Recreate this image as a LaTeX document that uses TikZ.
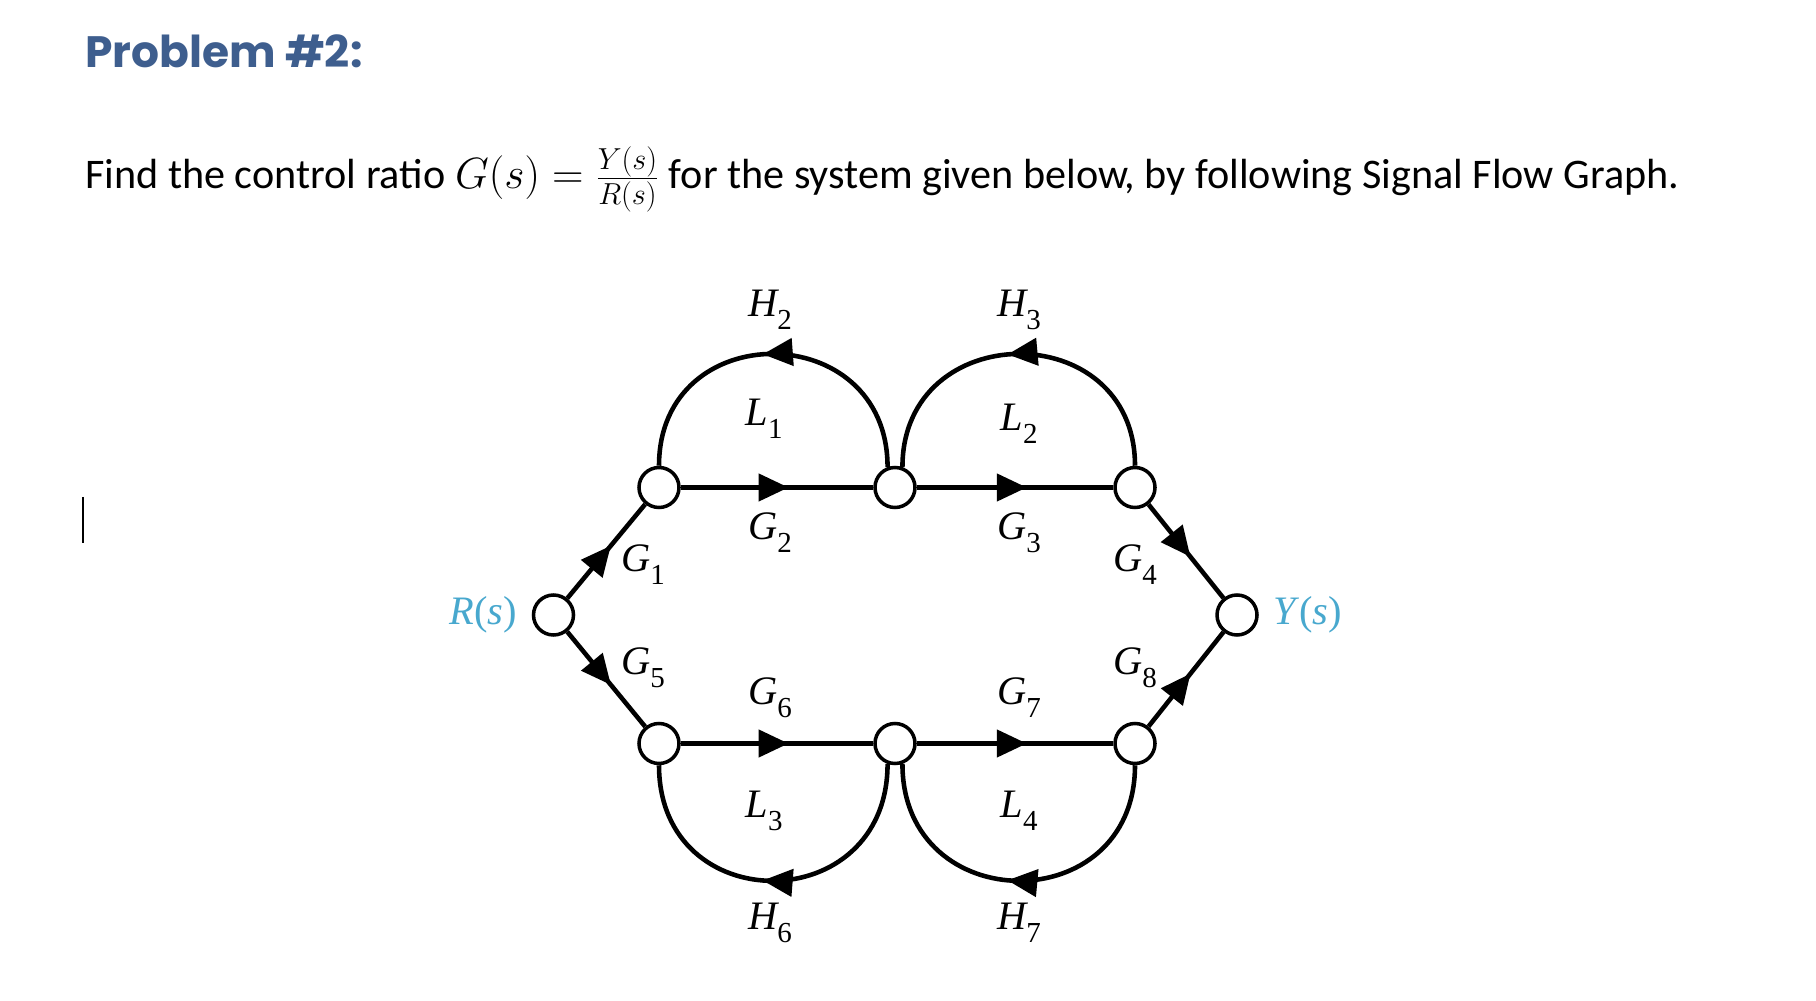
\documentclass[tikz,border=0pt]{standalone}
\usepackage{fontspec}
\setmainfont{Carlito}
\newfontfamily\titlefont{Poppins}
\newfontfamily\figfont{Liberation Serif}
\usetikzlibrary{arrows.meta, positioning, decorations.markings}
\definecolor{titleblue}{RGB}{62,94,142}
\definecolor{sigblue}{RGB}{72,168,206}
\newcommand{\gain}[2]{{\figfont\itshape #1}\raisebox{-0.32em}{\figfont\upshape\fontsize{16.5}{16.5}\selectfont #2}}

\begin{document}
\begin{tikzpicture}[
    font=\figfont\fontsize{23}{23}\selectfont,
    signode/.style={circle, draw=black, line width=2pt, fill=white,
        minimum size=0.8cm, inner sep=0pt},
    flow/.style={line width=2.6pt, draw=black, postaction={decorate},
        decoration={markings, mark=at position #1 with {\arrow{Triangle[length=0.6cm, width=0.54cm]}}}},
    flow/.default=0.56,
    gainlbl/.style={inner sep=1pt},
    signal/.style={inner sep=1pt, text=sigblue}
]
\useasboundingbox (0,0) rectangle (36.32,20);

\node[anchor=base west, inner sep=0pt, text=titleblue,
    font=\titlefont\bfseries\fontsize{25}{25}\selectfont] (title) at (1.7,18.64) {Problem \#2:};
\node[anchor=base west, inner sep=0pt, font=\rmfamily\fontsize{24}{24}\selectfont] (task) at (1.7,16.22)
    {Find the control ratio $G(s)=\frac{Y(s)}{R(s)}$ for the system given below, by following Signal Flow Graph.};
\draw[line width=1.4pt] (1.66,10.06) -- (1.66,9.14);

% signal nodes
\foreach \n/\x/\y in {R/11.07/7.70, t1/13.18/10.25, t2/17.90/10.25, t3/22.70/10.25, Y/24.74/7.70,
    b1/13.18/5.13, b2/17.90/5.13, b3/22.70/5.13}
    {\node[signode] (\n) at (\x,\y) {};}

\node[signal, left=0.25cm of R] (rs) {\textit{R}(\textit{s})};
\node[signal, right=0.25cm of Y] (ys) {\textit{Y}(\textit{s})};

% branches
\foreach \a/\b in {R/t1, t1/t2, t2/t3, t3/Y, R/b1, b1/b2, b2/b3, b3/Y}
    {\draw[flow] (\a) -- (\b);}

% feedback loops
\draw[flow=0.53] (t2.110) .. controls +(0,3) and +(0,3) .. (t1.north);
\draw[flow=0.53] (t3.north) .. controls +(0,3) and +(0,3) .. (t2.70);
\draw[flow=0.53] (b2.250) .. controls +(0,-3.1) and +(0,-3.1) .. (b1.south);
\draw[flow=0.53] (b3.south) .. controls +(0,-3.1) and +(0,-3.1) .. (b2.290);

% gains
\foreach \g/\i/\x/\y in {H/2/15.4/13.8, H/3/20.38/13.8, L/1/15.28/11.62, L/2/20.38/11.52,
    G/2/15.4/9.34, G/3/20.38/9.34, G/1/12.86/8.7, G/4/22.7/8.7,
    G/5/12.86/6.64, G/8/22.7/6.64, G/6/15.4/6.04, G/7/20.38/6.04,
    L/3/15.28/3.78, L/4/20.38/3.78, H/6/15.4/1.54, H/7/20.38/1.54}
    {\node[gainlbl] (\g\i) at (\x,\y) {\gain{\g}{\i}};}
\end{tikzpicture}
\end{document}
